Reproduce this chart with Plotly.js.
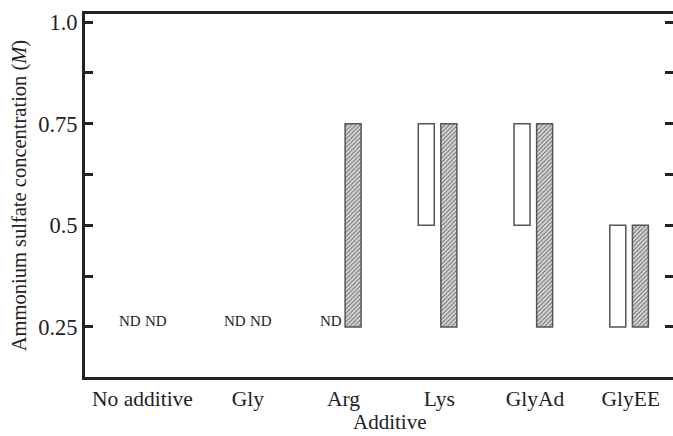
<!DOCTYPE html>
<html>
<head>
<meta charset="utf-8">
<script src="https://cdn.plot.ly/plotly-3.0.1.min.js"></script>
<style>html,body{margin:0;padding:0;background:#fff;}#chart{width:673px;height:436px;}</style>
</head>
<body>
<div id="chart"></div>
<script>
// ---- data ----
const categories = ['No additive', 'Gly', 'Arg', 'Lys', 'GlyAd', 'GlyEE'];
// open bars (low / high ammonium sulfate, M); null = not determined
const openLow  = [null, null, null, 0.5, 0.5, 0.25];
const openHigh = [null, null, null, 0.75, 0.75, 0.5];
// hatched bars
const hatchLow  = [null, null, 0.25, 0.25, 0.25, 0.25];
const hatchHigh = [null, null, 0.75, 0.75, 0.75, 0.5];
const ndLabel = 'ND';
const yTickVals = [0.25, 0.375, 0.5, 0.625, 0.75, 0.875, 1.0];
const yTickText = ['0.25', '', '0.5', '', '0.75', '', '1.0'];

// ---- layout helpers ----
const idx = categories.map((c, i) => i);
const catPos = idx.map(i => (i === 0 ? -0.1 : i));
const boundaries = idx.slice(1).map(i => i - 0.5);
const barW = 0.167, openOff = -0.22, hatchOff = 0.016;
const ndOpenOff = -0.135, ndHatchOff = 0.14;
const ink = '#222';
const font = 'Liberation Serif, Times New Roman, serif';

const diff = (hi, lo) => hi.map((h, i) => (h == null ? null : h - lo[i]));

const traces = [
  {
    type: 'bar', x: catPos, y: diff(openHigh, openLow), base: openLow,
    width: barW, offset: openOff,
    marker: {color: '#ffffff', line: {color: '#555', width: 1.5}},
    hoverinfo: 'skip', showlegend: false
  },
  {
    type: 'bar', x: catPos, y: diff(hatchHigh, hatchLow), base: hatchLow,
    width: barW, offset: hatchOff,
    marker: {color: '#bdbdbd', line: {color: '#555', width: 1.5},
      pattern: {shape: '/', fgcolor: '#666', bgcolor: '#d6d6d6', size: 3, solidity: 0.3}},
    hoverinfo: 'skip', showlegend: false
  }
];

const ndFont = {family: font, size: 15, color: ink};
const annotations = [];
idx.forEach(i => {
  if (openHigh[i] == null) annotations.push({x: catPos[i] + ndOpenOff, y: 0.25, xref: 'x', yref: 'y',
    text: ndLabel, showarrow: false, yanchor: 'bottom', xanchor: 'center', yshift: -4, font: ndFont});
  if (hatchHigh[i] == null) annotations.push({x: catPos[i] + ndHatchOff, y: 0.25, xref: 'x', yref: 'y',
    text: ndLabel, showarrow: false, yanchor: 'bottom', xanchor: 'center', yshift: -4, font: ndFont});
});
annotations.push({x: 0.519, y: 0, xref: 'paper', yref: 'paper', yanchor: 'top', xanchor: 'center',
  yshift: -31, text: 'Additive', showarrow: false, font: {family: font, size: 21, color: ink}});

const xRange = [-0.70, 5.44];
const layout = {
  width: 673, height: 436,
  margin: {l: 85, r: 0, t: 14, b: 59},
  paper_bgcolor: '#fff', plot_bgcolor: '#fff',
  barmode: 'overlay',
  font: {family: font, color: ink, size: 21},
  xaxis: {
    range: xRange, tickmode: 'array', tickvals: catPos, ticktext: categories,
    ticks: '', showline: true, linewidth: 3, linecolor: ink, mirror: true,
    showgrid: false, zeroline: false, tickfont: {family: font, size: 21.5, color: ink}
  },
  xaxis2: {
    overlaying: 'x', anchor: 'y', side: 'bottom', range: xRange,
    tickmode: 'array', tickvals: boundaries, ticks: 'inside', ticklen: 9, tickwidth: 3,
    tickcolor: ink, showticklabels: false, mirror: 'allticks', showline: false,
    showgrid: false, zeroline: false
  },
  yaxis: {
    range: [0.127, 1.0197], tickmode: 'array', tickvals: yTickVals, ticktext: yTickText,
    ticks: 'inside', ticklen: 8, tickwidth: 3, tickcolor: ink,
    showline: true, linewidth: 3, linecolor: ink, mirror: 'allticks',
    showgrid: false, zeroline: false, tickfont: {family: font, size: 22.5, color: ink},
    title: {text: 'Ammonium sulfate concentration (<i>M</i>)', font: {family: font, size: 20.5, color: ink}, standoff: 6}
  },
  annotations: annotations
};

Plotly.newPlot('chart', traces, layout, {staticPlot: true, displayModeBar: false});
</script>
</body>
</html>
